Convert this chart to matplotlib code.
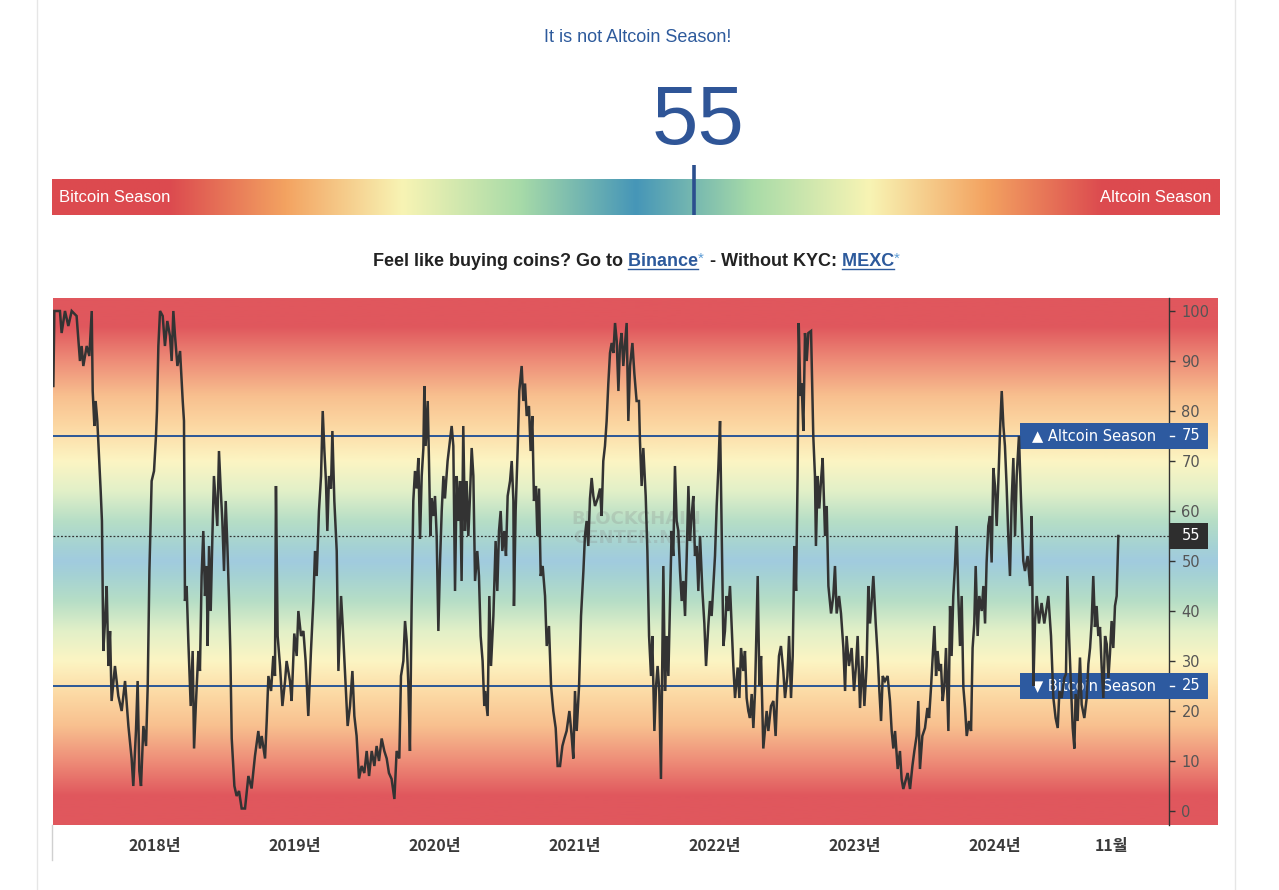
import numpy as np
import matplotlib
matplotlib.use("Agg")
import matplotlib.pyplot as plt
import matplotlib.transforms as mtransforms
from matplotlib.colors import to_rgb
from matplotlib.lines import Line2D
from matplotlib.patches import Rectangle

# ---- data (fractional year, altcoin season index) ----
t_years = [
    2017.274, 2017.281, 2017.321, 2017.333, 2017.357, 2017.381, 2017.405, 2017.440, 2017.464, 2017.476,
    2017.488, 2017.512, 2017.531, 2017.548, 2017.555, 2017.567, 2017.576, 2017.588, 2017.600, 2017.612,
    2017.621, 2017.631, 2017.643, 2017.655, 2017.667, 2017.679, 2017.690, 2017.714, 2017.738, 2017.762,
    2017.786, 2017.810, 2017.833, 2017.845, 2017.864, 2017.876, 2017.888, 2017.900, 2017.917, 2017.936,
    2017.948, 2017.960, 2017.976, 2017.993, 2018.007, 2018.014, 2018.024, 2018.036, 2018.055, 2018.071,
    2018.088, 2018.107, 2018.119, 2018.131, 2018.143, 2018.160, 2018.179, 2018.198, 2018.207, 2018.214,
    2018.226, 2018.238, 2018.255, 2018.269, 2018.279, 2018.293, 2018.310, 2018.321,
    2018.333, 2018.345, 2018.357, 2018.369, 2018.376, 2018.386, 2018.398, 2018.410, 2018.421, 2018.433,
    2018.445, 2018.457, 2018.469, 2018.481, 2018.493, 2018.505, 2018.517, 2018.529, 2018.538, 2018.548,
    2018.567, 2018.583, 2018.600, 2018.619, 2018.643, 2018.667, 2018.690, 2018.714, 2018.738, 2018.750,
    2018.762, 2018.786, 2018.798, 2018.810, 2018.829, 2018.845, 2018.857, 2018.864, 2018.876, 2018.893,
    2018.910, 2018.929, 2018.940, 2018.964, 2018.976, 2018.995, 2019.012, 2019.024, 2019.043, 2019.060,
    2019.076, 2019.095, 2019.114, 2019.131, 2019.143, 2019.155, 2019.171, 2019.186, 2019.198, 2019.210,
    2019.221, 2019.231, 2019.243, 2019.257, 2019.267, 2019.281, 2019.298, 2019.310, 2019.329, 2019.340,
    2019.357,
    2019.376, 2019.393, 2019.410, 2019.424, 2019.440, 2019.457, 2019.476, 2019.495, 2019.512, 2019.529,
    2019.548, 2019.567, 2019.583, 2019.600, 2019.619, 2019.638, 2019.655, 2019.671, 2019.690, 2019.710,
    2019.726, 2019.745, 2019.757, 2019.774, 2019.786, 2019.798, 2019.810, 2019.821, 2019.833, 2019.845,
    2019.857, 2019.869, 2019.881, 2019.893, 2019.905, 2019.917, 2019.924, 2019.933, 2019.948, 2019.957,
    2019.967, 2019.976, 2019.988, 2020.000, 2020.012, 2020.024, 2020.036, 2020.048, 2020.060, 2020.071,
    2020.090, 2020.107, 2020.119, 2020.131, 2020.143, 2020.155, 2020.167, 2020.179, 2020.190, 2020.202,
    2020.214, 2020.226, 2020.238, 2020.250, 2020.262, 2020.274, 2020.286, 2020.302, 2020.314, 2020.326,
    2020.340, 2020.352,
    2020.357, 2020.376, 2020.388, 2020.400, 2020.417, 2020.433, 2020.445, 2020.457, 2020.469, 2020.481,
    2020.495, 2020.507, 2020.519, 2020.536, 2020.548, 2020.560, 2020.564, 2020.576, 2020.590, 2020.602,
    2020.619, 2020.631, 2020.643, 2020.655, 2020.671, 2020.683, 2020.695, 2020.707, 2020.721, 2020.731,
    2020.743, 2020.755, 2020.769, 2020.786, 2020.798, 2020.814, 2020.829, 2020.845, 2020.862, 2020.876,
    2020.893, 2020.910, 2020.924, 2020.940, 2020.960, 2020.976, 2020.988, 2021.000, 2021.012, 2021.029,
    2021.043, 2021.060, 2021.071, 2021.083, 2021.095, 2021.107, 2021.119, 2021.131, 2021.143, 2021.162,
    2021.179, 2021.190, 2021.202, 2021.214, 2021.226, 2021.238, 2021.250, 2021.262, 2021.274, 2021.286,
    2021.298, 2021.310, 2021.321, 2021.333, 2021.345,
    2021.369, 2021.381, 2021.393, 2021.410, 2021.424, 2021.440, 2021.457, 2021.464, 2021.476, 2021.488,
    2021.505, 2021.517, 2021.529, 2021.543, 2021.552, 2021.567, 2021.579, 2021.590, 2021.602, 2021.614,
    2021.631, 2021.643, 2021.655, 2021.667, 2021.679, 2021.690, 2021.702, 2021.714, 2021.726, 2021.738,
    2021.750, 2021.762, 2021.774, 2021.786, 2021.798, 2021.810, 2021.821, 2021.833, 2021.845, 2021.857,
    2021.869, 2021.881, 2021.893, 2021.910, 2021.924, 2021.936, 2021.952, 2021.964, 2021.976, 2021.988,
    2022.000, 2022.012, 2022.024, 2022.036, 2022.048, 2022.060, 2022.071, 2022.083, 2022.095, 2022.107,
    2022.119, 2022.131, 2022.143, 2022.162, 2022.174, 2022.186, 2022.202, 2022.214, 2022.226, 2022.238,
    2022.250, 2022.262, 2022.274, 2022.286, 2022.305, 2022.317, 2022.329, 2022.345,
    2022.369, 2022.381, 2022.400, 2022.417, 2022.433, 2022.445, 2022.457, 2022.471, 2022.488, 2022.500,
    2022.517, 2022.529, 2022.543, 2022.555, 2022.567, 2022.579, 2022.590, 2022.598, 2022.610, 2022.619,
    2022.631, 2022.643, 2022.655, 2022.667, 2022.686, 2022.702, 2022.714, 2022.721, 2022.733, 2022.745,
    2022.757, 2022.769, 2022.786, 2022.798, 2022.810, 2022.829, 2022.845, 2022.857, 2022.869, 2022.886,
    2022.900, 2022.917, 2022.929, 2022.940, 2022.957, 2022.976, 2022.993, 2023.007, 2023.019, 2023.036,
    2023.052, 2023.067, 2023.083, 2023.095, 2023.107, 2023.119, 2023.131, 2023.148, 2023.162, 2023.174,
    2023.186, 2023.198, 2023.214, 2023.233, 2023.250, 2023.262, 2023.274, 2023.286, 2023.305, 2023.321,
    2023.333, 2023.345,
    2023.376, 2023.393, 2023.410, 2023.424, 2023.440, 2023.452, 2023.464, 2023.481, 2023.500, 2023.517,
    2023.529, 2023.543, 2023.555, 2023.567, 2023.579, 2023.590, 2023.602, 2023.614, 2023.626, 2023.638,
    2023.650, 2023.667, 2023.679, 2023.690, 2023.702, 2023.714, 2023.726, 2023.738, 2023.750, 2023.762,
    2023.774, 2023.786, 2023.798, 2023.814, 2023.829, 2023.840, 2023.852, 2023.862, 2023.876, 2023.888,
    2023.905, 2023.917, 2023.929, 2023.940, 2023.952, 2023.964, 2023.976, 2023.988, 2024.000, 2024.012,
    2024.024, 2024.036, 2024.048, 2024.060, 2024.071, 2024.083, 2024.095, 2024.107, 2024.119, 2024.131,
    2024.143, 2024.155, 2024.171, 2024.186, 2024.202, 2024.214, 2024.233, 2024.250, 2024.262, 2024.274,
    2024.286, 2024.298, 2024.314, 2024.333, 2024.352,
    2024.381, 2024.400, 2024.417, 2024.433, 2024.448, 2024.460, 2024.476, 2024.495, 2024.507, 2024.517,
    2024.529, 2024.543, 2024.555, 2024.567, 2024.576, 2024.590, 2024.607, 2024.619, 2024.638, 2024.655,
    2024.667, 2024.679, 2024.690, 2024.702, 2024.714, 2024.726, 2024.738, 2024.750, 2024.762, 2024.774,
    2024.786, 2024.798, 2024.810, 2024.821, 2024.833, 2024.845, 2024.857, 2024.869, 2024.881,
]

alt_index = [
    85, 100, 100, 95.6, 100, 97, 100, 99, 90, 93,
    89, 93, 91, 100, 84, 77, 82, 78, 71, 64,
    58, 32, 38, 45, 29, 36, 22, 29, 23, 20,
    26, 17, 10.5, 5, 16, 26, 8, 5, 17, 13,
    25, 48, 66, 68, 75, 80, 93, 100, 99, 93,
    98, 95, 90, 100, 95, 89, 92, 82, 78, 42,
    45, 34, 21, 32, 12.5, 22, 32, 28,
    47, 56, 43, 49, 33, 53, 40, 55, 67, 62,
    57, 72, 64.5, 58, 48, 62, 53, 42, 32, 14.5,
    5, 3, 4, 0.5, 0.5, 7, 4.5, 11, 16, 12.5,
    15, 10.5, 18, 27, 24, 31, 27, 65, 35, 29,
    21, 26, 30, 26, 22, 35.5, 31, 40, 35, 36,
    30, 19, 32, 42, 52, 47, 60, 67, 80, 72,
    66, 56, 67, 64.5, 76, 62, 52, 28, 43, 37.5,
    28,
    17, 21, 28, 19, 15, 6.5, 9, 7.6, 12, 7,
    12, 9, 13, 10, 14.5, 12, 10.5, 7.6, 6.4, 2.4,
    12, 10.5, 27, 30, 38, 34, 25, 12, 41, 62,
    68, 64.5, 70.6, 54.4, 67, 72.6, 85, 73, 82, 70,
    55, 62.5, 59, 63, 55, 36, 50, 60, 67, 62.5,
    70, 74, 77, 73, 44, 67, 58, 66, 46, 77,
    56, 66, 55, 63, 72.6, 67, 46, 52, 47, 35,
    30, 21,
    24, 19, 43, 29, 39, 54, 44, 56, 60, 52,
    56, 51, 63, 66, 70, 62, 41, 60, 72, 84,
    89, 82, 85.5, 79, 81, 72, 79, 62, 65, 55,
    64.5, 47, 49, 43, 33, 37, 25, 20, 16.6, 9,
    9, 13, 14.5, 16, 20, 15, 10.5, 24, 16, 25,
    39, 48, 55, 58, 53, 62.5, 66.6, 63, 61, 62.5,
    64.5, 59, 70, 73, 78, 85.5, 91.6, 93.6, 91.6, 97.6,
    94, 84, 93, 95.6, 89,
    97.6, 78, 89, 93.6, 87.5, 82, 82, 74, 65, 72.6,
    63, 52, 35, 27, 35, 16, 25, 29, 24, 6.4,
    49, 24, 35, 27, 42, 56, 51, 69, 58, 56,
    48, 42, 46, 39, 51, 65, 54, 59, 63, 51,
    53, 44, 55, 44, 37.5, 29, 37, 42, 39, 45,
    51, 61, 68.6, 78, 55, 33, 36, 43, 40, 45,
    37, 29, 22.6, 28.7, 22.6, 32.6, 28, 32, 22.6, 20,
    18.6, 23.4, 16.6, 24, 47, 25, 31, 12.5,
    20, 16, 21, 22, 15, 24, 31, 33, 28, 22.6,
    27, 35, 22.6, 31, 53, 44, 67, 97.6, 83, 85.5,
    76, 95.6, 90, 95.6, 96, 75, 67, 53, 67, 60.5,
    66, 70.6, 55, 61, 45, 39.5, 43, 49, 39.5, 43,
    39.5, 32.6, 24, 35, 29, 32.6, 24, 29, 35, 20.6,
    31, 21, 29, 45, 37.5, 42, 47, 37.5, 31, 24,
    18, 27, 26, 27, 22, 16, 12.5, 16, 8.4, 12,
    6.4, 4.4,
    7.6, 4.4, 9, 12, 15, 22, 8.4, 15, 16.6, 20.6,
    18.6, 24.7, 31, 37, 27, 32, 28, 29.4, 22, 25,
    32.6, 16, 41, 31, 43, 49, 57, 43, 33, 43,
    24.7, 20.6, 15, 18, 16, 32.6, 37.5, 49, 35, 43,
    40, 45, 37.5, 49.7, 57, 59, 49.7, 68.6, 65, 57,
    66, 76, 84, 77, 73, 65, 55, 47, 62, 70.6,
    55, 67, 75, 62, 50, 48, 51, 45, 59, 25,
    38, 43, 37.5, 41.6, 37.5,
    43, 35, 22.6, 18.6, 16.6, 24, 22.6, 26.6, 27.4, 47,
    35, 24.7, 16.6, 12.5, 23.4, 18, 30.7, 21.3, 18.6, 22.6,
    29.4, 32.6, 37.5, 47, 36.8, 41, 35, 36.8, 28.7, 22.6,
    35, 33.4, 26.6, 31.4, 38, 32.6, 41, 43, 55,
]

xtick_pos = [2018, 2019, 2020, 2021, 2022, 2023, 2024, 2024.833]
xtick_labels = ["2018년", "2019년", "2020년", "2021년", "2022년", "2023년", "2024년", "11월"]
ytick_vals = list(range(0, 101, 10))
current_value = 55
altcoin_level = 75
bitcoin_level = 25

# ---- layout helpers (pixel -> figure fraction) ----
W, H = 1279, 890
fig = plt.figure(figsize=(W / 100, H / 100), dpi=100)
fig.patch.set_facecolor("white")


def fx(px):
    return px / W


def fy(py):
    return 1 - py / H


SANS = "Liberation Sans"
BLUE = "#2d5a9c"

# page borders
for xp in (37, 1235):
    fig.add_artist(Line2D([fx(xp), fx(xp)], [0, 1], color="#e6e6e6", lw=1,
                          transform=fig.transFigure))
fig.add_artist(Line2D([fx(52), fx(52)], [fy(860), fy(825)], color="#d0d0d0", lw=1,
                      transform=fig.transFigure))

# ---- header ----
fig.text(fx(638), fy(42), "It is not Altcoin Season!", ha="center", va="baseline",
         fontsize=13, color=BLUE, family=SANS)
fig.text(fx(698), fy(144), str(current_value), ha="center", va="baseline",
         fontsize=60, color="#2f5597", family=SANS)

# gauge bar
gb = fig.add_axes([fx(52), fy(215), fx(1220) - fx(52), fy(179) - fy(215)])
bar_pos = [0, 10, 20, 30, 40, 50, 60, 70, 80, 90, 100]
bar_cols = ["#dc4a4f", "#dc4a4f", "#f3a361", "#f8f4b4", "#a8dba8", "#4696b8",
            "#a8dba8", "#f8f4b4", "#f3a361", "#dc4a4f", "#dc4a4f"]
xs = np.linspace(0, 100, 800)
bc = np.array([to_rgb(c) for c in bar_cols])
bar_img = np.stack([np.interp(xs, bar_pos, bc[:, i]) for i in range(3)], axis=-1)[None, :, :]
gb.imshow(bar_img, aspect="auto", extent=[0, 100, 0, 1])
gb.set_xlim(0, 100)
gb.set_ylim(0, 1)
gb.axis("off")
gb.plot([current_value, current_value], [0, 1.39], color="#2b4f8e", lw=2.6,
        clip_on=False, solid_capstyle="butt")
gb.text(0.6, 0.5, "Bitcoin Season", color="white", fontsize=12, family=SANS,
        ha="left", va="center")
gb.text(99.3, 0.5, "Altcoin Season", color="white", fontsize=12, family=SANS,
        ha="right", va="center")

# promo line with coloured, underlined links
FS = 13
pieces = [
    ("Feel like buying coins? Go to", "#222222", False, FS, 0),
    (" Binance", BLUE, True, FS, 0),
    ("*", "#5b9bd5", False, 11, 3),
    (" - Without KYC:", "#222222", False, FS, 0),
    (" MEXC", BLUE, True, FS, 0),
    ("*", "#5b9bd5", False, 11, 3),
]
renderer = fig.canvas.get_renderer()
widths = []
for s, c, u, fs, rise in pieces:
    tmp = fig.text(0, 0, s, fontsize=fs, fontweight="bold", family=SANS)
    widths.append(tmp.get_window_extent(renderer).width)
    tmp.remove()
xpix = 636 - sum(widths) / 2
base = 266
for (s, c, u, fs, rise), w in zip(pieces, widths):
    fig.text(fx(xpix), fy(base - rise), s, fontsize=fs,
             fontweight="normal" if s == "*" else "bold", family=SANS,
             color=c, va="baseline", ha="left")
    if u:
        tmp = fig.text(0, 0, s.strip(), fontsize=fs, fontweight="bold", family=SANS)
        wu = tmp.get_window_extent(renderer).width
        tmp.remove()
        fig.add_artist(Line2D([fx(xpix + w - wu), fx(xpix + w)], [fy(base + 2.5)] * 2,
                              color=c, lw=1, transform=fig.transFigure))
    xpix += w + (1 if s == "*" else 0)

# ---- chart ----
YMIN, YMAX = -2.8, 102.6
X0 = 2018 + (53 - 155) / 140
X1 = 2018 + (1169 - 155) / 140

bg = fig.add_axes([fx(53), fy(825), fx(1218) - fx(53), fy(298) - fy(825)])
bg_pos = [-3, 3, 10, 17, 23, 30, 36, 42, 47, 50, 53, 58, 64, 70, 77, 83, 90, 97, 103]
bg_cols = ["#e0575d", "#e0575d", "#ee8d78", "#f8c08f", "#fcd8a3", "#fcf5c3", "#e2f0c8",
           "#b6dec6", "#a5d2d4", "#a1cbdf", "#a5d2d4", "#b6dec6", "#e2f0c8", "#fcf5c3",
           "#fcd8a3", "#f8c08f", "#ee8d78", "#e0575d", "#e0575d"]
vs = np.linspace(YMIN, YMAX, 700)
gc = np.array([to_rgb(c) for c in bg_cols])
bg_img = np.stack([np.interp(vs, bg_pos, gc[:, i]) for i in range(3)], axis=-1)[:, None, :]
bg.imshow(bg_img, aspect="auto", extent=[0, 1, YMIN, YMAX], origin="lower")
bg.set_xlim(0, 1)
bg.set_ylim(YMIN, YMAX)
bg.axis("off")

ax = fig.add_axes([fx(53), fy(825), fx(1169) - fx(53), fy(298) - fy(825)])
ax.patch.set_alpha(0)
ax.set_xlim(X0, X1)
ax.set_ylim(YMIN, YMAX)

ax.text(fx(636), fy(519), "BLOCKCHAIN", transform=fig.transFigure, ha="center",
        va="center", fontsize=13, fontweight="bold", color="#8a8a8a", alpha=0.25, zorder=1)
ax.text(fx(636), fy(538), "CENTER.NET", transform=fig.transFigure, ha="center",
        va="center", fontsize=13, fontweight="bold", color="#8a8a8a", alpha=0.25, zorder=1)

line_end = (1020 - 53) / (1169 - 53)
ax.axhline(altcoin_level, xmax=line_end, color="#2b5797", lw=1.4, zorder=2)
ax.axhline(bitcoin_level, xmax=line_end, color="#2b5797", lw=1.4, zorder=2)
ax.axhline(current_value, color="#333333", lw=0.9, ls=(0, (1.5, 1.5)), zorder=2)

ax.plot(t_years, alt_index, color="#333333", lw=1.8, zorder=5, solid_joinstyle="miter")

ax.yaxis.tick_right()
ax.set_yticks(ytick_vals)
ax.tick_params(axis="y", length=4, width=1, color="#333333", pad=5,
               labelsize=10.5, labelcolor="#555555")
ax.set_xticks(xtick_pos)
ax.set_xticklabels(xtick_labels, family=["Noto Sans CJK KR", "DejaVu Sans"],
                   fontweight="bold", fontsize=11.5, color="#3a3a3a")
ax.tick_params(axis="x", length=0, pad=9)
for side in ("top", "left", "bottom"):
    ax.spines[side].set_visible(False)
ax.spines["right"].set_color("#333333")
ax.spines["right"].set_linewidth(1)

# price tags on the right
trans = mtransforms.blended_transform_factory(fig.transFigure, ax.transData)
for lvl, label in ((altcoin_level, "\u25B2 Altcoin Season"), (bitcoin_level, "\u25BC Bitcoin Season")):
    ax.add_patch(Rectangle((fx(1020), lvl - 2.55), fx(1208) - fx(1020), 5.1, transform=trans,
                           facecolor="#2d5aa0", edgecolor="none", clip_on=False, zorder=3))
    ax.text(fx(1032), lvl, label, transform=trans, color="white", fontsize=10.5,
            ha="left", va="center", zorder=4)
    ax.add_artist(Line2D([fx(1170), fx(1174)], [lvl, lvl], transform=trans, color="white",
                         lw=1, zorder=4, clip_on=False))
    ax.text(fx(1182), lvl, str(lvl), transform=trans, color="white", fontsize=10.5,
            ha="left", va="center", zorder=4)

ax.add_patch(Rectangle((fx(1169), current_value - 2.6), fx(1208) - fx(1169), 5.2,
                       transform=trans, facecolor="#2e2e2e", edgecolor="none",
                       clip_on=False, zorder=3))
ax.text(fx(1182), current_value, str(current_value), transform=trans, color="white",
        fontsize=10.5, ha="left", va="center", zorder=4)

fig.savefig("out.png", dpi=100, facecolor="white")
